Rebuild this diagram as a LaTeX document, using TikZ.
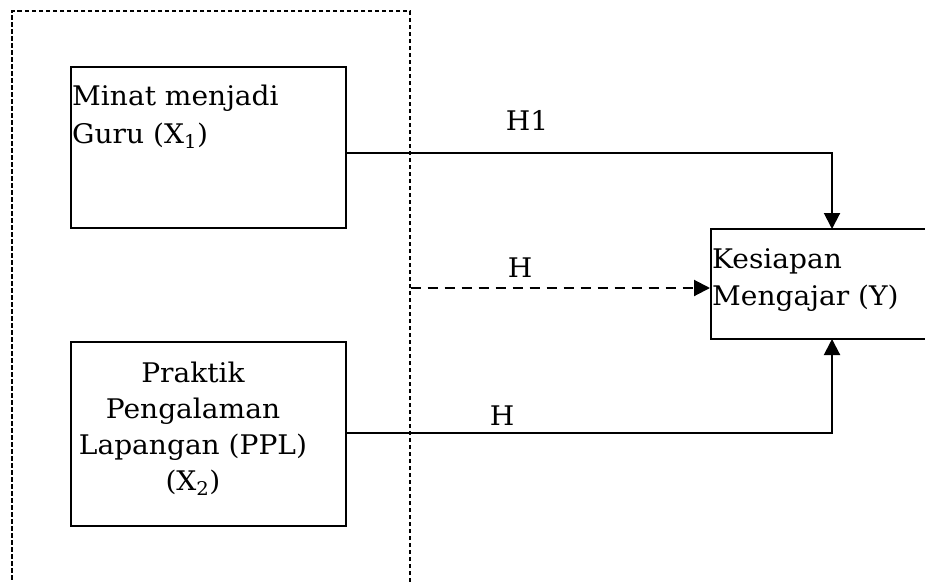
\documentclass[tikz,border=0pt]{standalone}
\usepackage{fontspec}
\setmainfont[FakeStretch=1.04]{DejaVu Serif}
\usetikzlibrary{arrows.meta}
\tikzset{
  box/.style={draw, line width=2pt, rectangle, inner sep=0pt},
  grp/.style={draw, line width=1.3pt, dash pattern=on 4.5pt off 2.5pt, rectangle, inner sep=0pt},
  txt/.style={inner sep=0pt, font=\fontsize{27}{37}\selectfont},
  lbl/.style={inner sep=0pt, anchor=base, font=\fontsize{27}{30}\selectfont},
  conn/.style={line width=2pt, -{Triangle[length=16pt,width=16pt]}},
  dconn/.style={conn, dash pattern=on 10pt off 7pt}
}
\begin{document}
\begin{tikzpicture}[x=1pt,y=-1pt]
  \useasboundingbox (0,0) rectangle (925,581);
  % group (dashed)
  \node[grp, minimum width=398pt, minimum height=600pt] (group) at (211,311) {};
  % boxes
  \node[box, minimum width=275pt, minimum height=161pt] (x1) at (208.5,147.5) {};
  \node[box, minimum width=275pt, minimum height=184pt] (x2) at (208.5,434) {};
  \node[box, minimum width=220pt, minimum height=110pt] (y) at (821,284) {};
  % texts
  \node[txt, anchor=north west, align=left] (t1) at (72,84.5) {Minat menjadi\\[1pt]Guru (X\textsubscript{1})};
  \node[txt, anchor=north, align=center] (t2) at (193,361.5) {Praktik\\[-1pt]Pengalaman\\[-1pt]Lapangan (PPL)\\[-1pt](X\textsubscript{2})};
  \node[txt, anchor=north west, align=left] (t3) at (712,248) {Kesiapan\\Mengajar (Y)};
  % connectors
  \coordinate (ytop) at (832,229);
  \coordinate (ybot) at (832,339);
  \draw[conn] (x1.east |- 0,153) -| (ytop);
  \draw[conn] (x2.east |- 0,433) -| (ybot);
  \draw[dconn] (group.east |- 0,288) -- (y.west |- 0,288);
  % labels
  \node[lbl] (h1) at (527,130) {H1};
  \node[lbl] (h2) at (520,277) {H};
  \node[lbl] (h3) at (502,425) {H};
\end{tikzpicture}
\end{document}
